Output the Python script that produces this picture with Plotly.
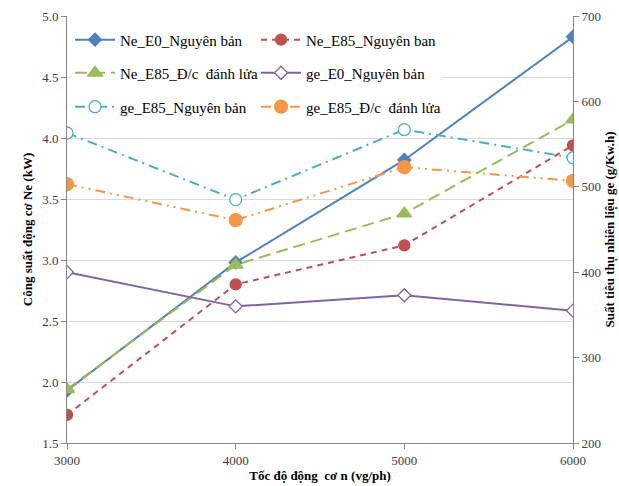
import plotly.graph_objects as go

speed = [3000, 4000, 5000, 6000]
ne_e0 = [1.93, 2.98, 3.82, 4.83]
ne_e85_nb = [1.73, 2.80, 3.12, 3.94]
ne_e85_dc = [1.94, 2.96, 3.38, 4.15]
ge_e0 = [400, 360, 373, 355]
ge_e85_nb = [563, 485, 567, 534]
ge_e85_dc = [503, 461, 523, 507]

names = ["Ne_E0_Nguyên bản", "Ne_E85_Nguyên ban", "Ne_E85_Đ/c  đánh lửa",
         "ge_E0_Nguyên bản", "ge_E85_Nguyên bản", "ge_E85_Đ/c  đánh lửa"]

FONT = "Liberation Serif"
fig = go.Figure()

def add(y, name, color, dash, symbol, size, axis, legend, fill=True):
    fig.add_trace(go.Scatter(
        x=speed, y=y, name=name, mode="lines+markers", yaxis=axis, legend=legend,
        line=dict(color=color, width=2, dash=dash),
        marker=dict(symbol=symbol, size=size, color=color if fill else "white",
                    line=dict(color=color, width=1.3)),
    ))

add(ne_e0, names[0], "#4F81BD", "solid", "diamond", 10, "y", "legend")
add(ne_e85_nb, names[1], "#C0504D", "6px,5px", "circle", 11, "y", "legend")
add(ne_e85_dc, names[2], "#9BBB59", "12px,6px", "triangle-up", 13, "y", "legend2")
add(ge_e0, names[3], "#8064A2", "solid", "diamond", 10, "y2", "legend2", fill=False)
add(ge_e85_nb, names[4], "#4BACC6", "10px,5px,2px,5px", "circle", 12, "y2", "legend3", fill=False)
add(ge_e85_dc, names[5], "#F79646", "10px,5px,2px,5px,2px,5px", "circle", 13, "y2", "legend3")

axis_line = dict(showline=True, linecolor="#868686", linewidth=1, ticks="outside",
                 tickcolor="#868686", ticklen=5, zeroline=False, automargin=False,
                 tickfont=dict(family=FONT, size=13, color="#404040"))

leg = dict(orientation="h", x=0.006, xanchor="left", yanchor="middle",
           bgcolor="white", entrywidth=131, entrywidthmode="pixels", itemwidth=40,
           font=dict(family=FONT, size=15, color="black"))

fig.update_layout(
    width=619, height=486,
    margin=dict(l=67, r=46, t=16, b=43),
    paper_bgcolor="white", plot_bgcolor="white",
    font=dict(family=FONT, size=13, color="#404040"),
    xaxis=dict(range=[3000, 6000], dtick=1000, tick0=3000, showgrid=False,
               title=dict(text="<b>Tốc độ động  cơ n (vg/ph)</b>", standoff=4,
                          font=dict(size=13, color="black")), **axis_line),
    yaxis=dict(range=[1.5, 5.0], dtick=0.5, tickformat=".1f", showgrid=True,
               gridcolor="#D9D9D9", gridwidth=1,
               title=dict(text="<b>Công suất động cơ Ne (kW)</b>", standoff=6,
                          font=dict(size=13, color="black")), **axis_line),
    yaxis2=dict(range=[200, 700], dtick=100, overlaying="y", side="right",
                showgrid=False,
                title=dict(text="<b>Suất tiêu thụ nhiên liệu ge (g/Kw.h)</b>", standoff=4,
                           font=dict(size=13, color="black")), **axis_line),
    legend=dict(y=0.944, **leg),
    legend2=dict(y=0.8665, **leg),
    legend3=dict(y=0.787, **leg),
    showlegend=True,
)

fig.write_html("out.html")
